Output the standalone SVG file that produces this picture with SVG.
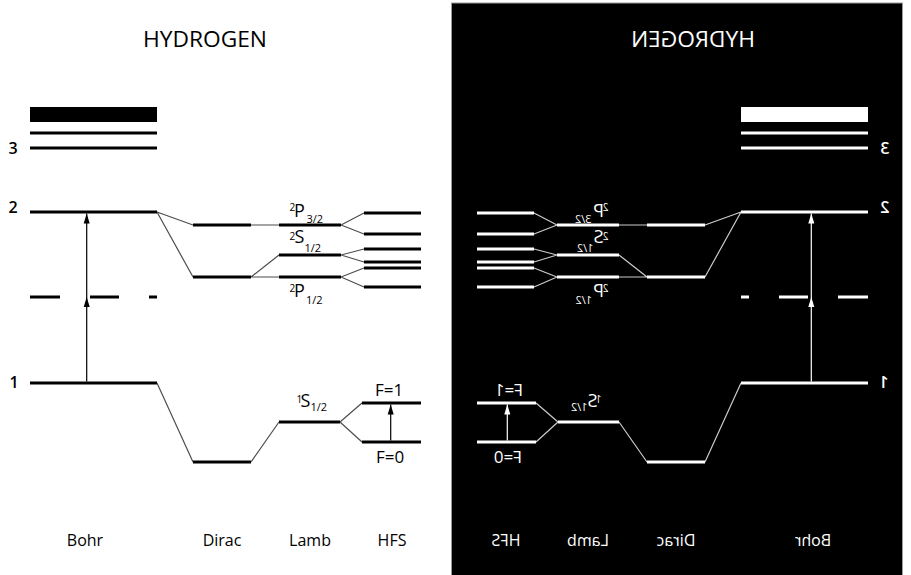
<svg xmlns="http://www.w3.org/2000/svg" width="911" height="575" viewBox="0 0 911 575">
<style>
.lv{stroke:#000;stroke-width:3;fill:none}
.blk{fill:#000}
.cn{stroke:#000;stroke-opacity:0.7;stroke-width:1.2;fill:none}
.ar{stroke:#000;stroke-width:1.2;fill:none}
.t{font-family:"Open Sans","Noto Sans",sans-serif;fill:#000}
.w .lv{stroke:#fff}
.w .blk{fill:#fff}
.w .cn{stroke:#fff;stroke-opacity:0.8}
.w .ar{stroke:#fff}
.w .t{fill:#fff}
.ttl{font-size:22.5px}
.lb{font-size:16px}
.num{font-size:16px;font-weight:600}
.fl{font-size:17px}
.sup{font-size:10px}
.big{font-size:18px}
.sub{font-size:11px}
</style>
<defs>
<marker id="arB" viewBox="0 0 10 6" refX="10" refY="3" markerWidth="10" markerHeight="6.5" markerUnits="userSpaceOnUse" orient="auto"><path d="M0,0 L10,3 L0,6 z" fill="#000"/></marker>
<marker id="arW" viewBox="0 0 10 6" refX="10" refY="3" markerWidth="10" markerHeight="6.5" markerUnits="userSpaceOnUse" orient="auto"><path d="M0,0 L10,3 L0,6 z" fill="#fff"/></marker>
</defs>
<rect x="451.5" y="3" width="451" height="573" fill="#000" stroke="#999" stroke-width="1"/>

<g id="left">
<text class="t ttl" x="205" y="47" text-anchor="middle" textLength="124" lengthAdjust="spacingAndGlyphs">HYDROGEN</text>
<g id="bohr-n3"><rect class="blk" x="30" y="107" width="127" height="15"/><line class="lv" x1="30" y1="133" x2="157" y2="133"/><line class="lv" x1="30" y1="148" x2="157" y2="148"/><text class="t num" x="13" y="154" text-anchor="middle">3</text></g>
<g id="bohr-n2"><line class="lv" x1="30" y1="212" x2="157" y2="212"/><text class="t num" x="13" y="213" text-anchor="middle">2</text></g>
<g id="bohr-mid"><line class="lv" x1="30" y1="297" x2="60" y2="297"/><line class="lv" x1="90" y1="297" x2="119" y2="297"/><line class="lv" x1="149" y1="297" x2="157" y2="297"/></g>
<g id="bohr-n1"><line class="lv" x1="30" y1="383" x2="157" y2="383"/><text class="t num" x="14" y="388" text-anchor="middle">1</text></g>
<g id="dirac-2p32"><line class="lv" x1="193" y1="225" x2="251" y2="225"/></g>
<g id="dirac-2s12-2p12"><line class="lv" x1="193" y1="277" x2="251" y2="277"/></g>
<g id="dirac-1s"><line class="lv" x1="193" y1="462" x2="251" y2="462"/></g>
<g id="lamb-2p32"><line class="lv" x1="279" y1="225" x2="341" y2="225"/><text class="t"><tspan class="sup" x="289.5" y="211">2</tspan><tspan class="big" x="294" y="216.5">P</tspan><tspan class="sub" x="306.5" y="222.5">3/2</tspan></text></g>
<g id="lamb-2s12"><line class="lv" x1="279" y1="255" x2="341" y2="255"/><text class="t"><tspan class="sup" x="289.5" y="239.5">2</tspan><tspan class="big" x="294.5" y="243">S</tspan><tspan class="sub" x="304.5" y="251.5">1/2</tspan></text></g>
<g id="lamb-2p12"><line class="lv" x1="279" y1="277" x2="341" y2="277"/><text class="t"><tspan class="sup" x="289.5" y="292">2</tspan><tspan class="big" x="294" y="297">P</tspan><tspan class="sub" x="306" y="304">1/2</tspan></text></g>
<g id="lamb-1s"><line class="lv" x1="279" y1="422" x2="340" y2="422"/><text class="t"><tspan class="sup" x="296.5" y="402.5">1</tspan><tspan class="big" x="300.5" y="407">S</tspan><tspan class="sub" x="310.5" y="411">1/2</tspan></text></g>
<g id="hfs-n2"><line class="lv" x1="364" y1="213" x2="421" y2="213"/><line class="lv" x1="364" y1="234" x2="421" y2="234"/><line class="lv" x1="364" y1="249" x2="421" y2="249"/><line class="lv" x1="364" y1="262" x2="421" y2="262"/><line class="lv" x1="364" y1="268" x2="421" y2="268"/><line class="lv" x1="364" y1="287" x2="421" y2="287"/></g>
<g id="hfs-f1"><line class="lv" x1="362" y1="403" x2="421" y2="403"/><text class="t fl" x="389" y="396" text-anchor="middle">F=1</text></g>
<g id="hfs-f0"><line class="lv" x1="362" y1="442" x2="421" y2="442"/><text class="t fl" x="390" y="463" text-anchor="middle">F=0</text></g>
<g id="labels"><text class="t lb" x="85" y="546" text-anchor="middle">Bohr</text><text class="t lb" x="222" y="546" text-anchor="middle">Dirac</text><text class="t lb" x="310" y="546" text-anchor="middle">Lamb</text><text class="t lb" x="392" y="546" text-anchor="middle">HFS</text></g>
<g id="connectors">
<path class="cn" d="M157,212 L193,225 M157,212 L193,277 M251,225 L279,225 M251,277 L279,255 M251,277 L279,277 M341,225 L364,213 M341,225 L364,234 M341,255 L364,249 M341,255 L364,262 M341,277 L364,268 M341,277 L364,287 M157,383 L193,462 M251,462 L279,422 M340,422 L362,403 M340,422 L362,442"/>
<line class="ar" x1="86.7" y1="381.5" x2="86.7" y2="297" marker-end="url(#arB)"/>
<line class="ar" x1="86.7" y1="297" x2="86.7" y2="213.5" marker-end="url(#arB)"/>
<line class="ar" x1="390.7" y1="440.5" x2="390.7" y2="404.5" marker-end="url(#arB)"/>
</g>
</g>

<g id="right" class="w" transform="translate(898,0) scale(-1,1)">
<text class="t ttl" x="205" y="47" text-anchor="middle" textLength="124" lengthAdjust="spacingAndGlyphs">HYDROGEN</text>
<g id="m-bohr-n3"><rect class="blk" x="30" y="107" width="127" height="15"/><line class="lv" x1="30" y1="133" x2="157" y2="133"/><line class="lv" x1="30" y1="148" x2="157" y2="148"/><text class="t num" x="13" y="154" text-anchor="middle">3</text></g>
<g id="m-bohr-n2"><line class="lv" x1="30" y1="212" x2="157" y2="212"/><text class="t num" x="13" y="213" text-anchor="middle">2</text></g>
<g id="m-bohr-mid"><line class="lv" x1="30" y1="297" x2="60" y2="297"/><line class="lv" x1="90" y1="297" x2="119" y2="297"/><line class="lv" x1="149" y1="297" x2="157" y2="297"/></g>
<g id="m-bohr-n1"><line class="lv" x1="30" y1="383" x2="157" y2="383"/><text class="t num" x="14" y="388" text-anchor="middle">1</text></g>
<g id="m-dirac-2p32"><line class="lv" x1="193" y1="225" x2="251" y2="225"/></g>
<g id="m-dirac-2s12-2p12"><line class="lv" x1="193" y1="277" x2="251" y2="277"/></g>
<g id="m-dirac-1s"><line class="lv" x1="193" y1="462" x2="251" y2="462"/></g>
<g id="m-lamb-2p32"><line class="lv" x1="279" y1="225" x2="341" y2="225"/><text class="t"><tspan class="sup" x="289.5" y="211">2</tspan><tspan class="big" x="294" y="216.5">P</tspan><tspan class="sub" x="306.5" y="222.5">3/2</tspan></text></g>
<g id="m-lamb-2s12"><line class="lv" x1="279" y1="255" x2="341" y2="255"/><text class="t"><tspan class="sup" x="289.5" y="239.5">2</tspan><tspan class="big" x="294.5" y="243">S</tspan><tspan class="sub" x="304.5" y="251.5">1/2</tspan></text></g>
<g id="m-lamb-2p12"><line class="lv" x1="279" y1="277" x2="341" y2="277"/><text class="t"><tspan class="sup" x="289.5" y="292">2</tspan><tspan class="big" x="294" y="297">P</tspan><tspan class="sub" x="306" y="304">1/2</tspan></text></g>
<g id="m-lamb-1s"><line class="lv" x1="279" y1="422" x2="340" y2="422"/><text class="t"><tspan class="sup" x="296.5" y="402.5">1</tspan><tspan class="big" x="300.5" y="407">S</tspan><tspan class="sub" x="310.5" y="411">1/2</tspan></text></g>
<g id="m-hfs-n2"><line class="lv" x1="364" y1="213" x2="421" y2="213"/><line class="lv" x1="364" y1="234" x2="421" y2="234"/><line class="lv" x1="364" y1="249" x2="421" y2="249"/><line class="lv" x1="364" y1="262" x2="421" y2="262"/><line class="lv" x1="364" y1="268" x2="421" y2="268"/><line class="lv" x1="364" y1="287" x2="421" y2="287"/></g>
<g id="m-hfs-f1"><line class="lv" x1="362" y1="403" x2="421" y2="403"/><text class="t fl" x="389" y="396" text-anchor="middle">F=1</text></g>
<g id="m-hfs-f0"><line class="lv" x1="362" y1="442" x2="421" y2="442"/><text class="t fl" x="390" y="463" text-anchor="middle">F=0</text></g>
<g id="m-labels"><text class="t lb" x="85" y="546" text-anchor="middle">Bohr</text><text class="t lb" x="222" y="546" text-anchor="middle">Dirac</text><text class="t lb" x="310" y="546" text-anchor="middle">Lamb</text><text class="t lb" x="392" y="546" text-anchor="middle">HFS</text></g>
<g id="m-connectors">
<path class="cn" d="M157,212 L193,225 M157,212 L193,277 M251,225 L279,225 M251,277 L279,255 M251,277 L279,277 M341,225 L364,213 M341,225 L364,234 M341,255 L364,249 M341,255 L364,262 M341,277 L364,268 M341,277 L364,287 M157,383 L193,462 M251,462 L279,422 M340,422 L362,403 M340,422 L362,442"/>
<line class="ar" x1="86.7" y1="381.5" x2="86.7" y2="297" marker-end="url(#arW)"/>
<line class="ar" x1="86.7" y1="297" x2="86.7" y2="213.5" marker-end="url(#arW)"/>
<line class="ar" x1="390.7" y1="440.5" x2="390.7" y2="404.5" marker-end="url(#arW)"/>
</g>
</g>
</svg>
